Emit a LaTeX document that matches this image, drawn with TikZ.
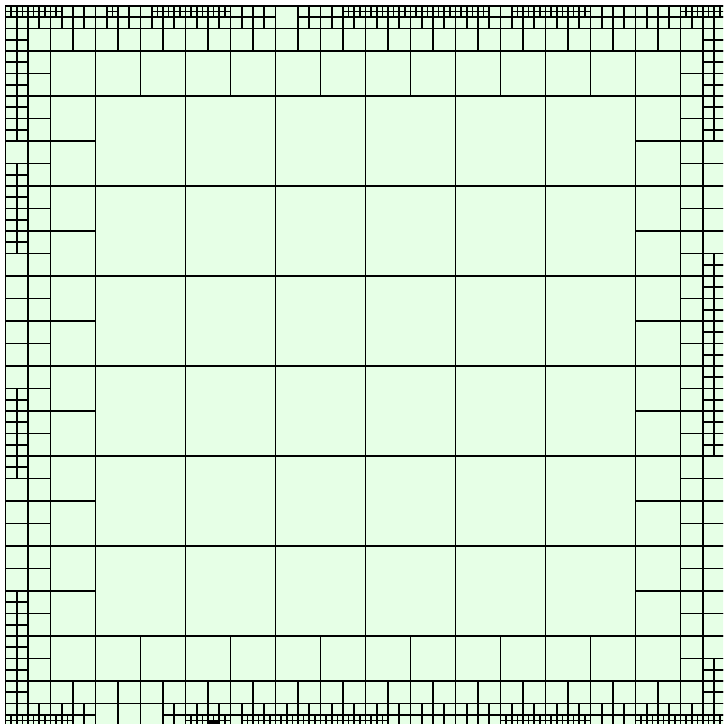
\documentclass[tikz,border=0pt]{standalone}
\usepackage{tikz}
\definecolor{cellcol}{RGB}{230,255,230}
\tikzstyle{mesh} = [line width=0.85pt, draw=black]
\tikzstyle{cellfill} = [fill=cellcol]

\begin{document}
\begin{tikzpicture}[x=2.8125pt, y=-2.8125pt]
    \useasboundingbox (-0.978,-1.067) rectangle (127.56,127.64);
    \clip (-0.978,-1.067) rectangle (127.56,127.64);
    \fill[cellfill] (0,0) rectangle (128,128);

    \begin{scope}[mesh]
    % centre, level 3
    \foreach \x in {16,32,...,96}
        \foreach \y in {16,32,...,96}
            \draw (\x,\y) rectangle ++(16,16);

    % level 4 ring
    \foreach \x in {8,16,...,112} {
        \draw (\x,8) rectangle ++(8,8);
        \draw (\x,112) rectangle ++(8,8);
    }
    \foreach \y in {16,24,...,104} {
        \draw (8,\y) rectangle ++(8,8);
        \draw (112,\y) rectangle ++(8,8);
    }

    % level 5 ring
    \foreach \x in {4,8,...,120} {
        \draw (\x,4) rectangle ++(4,4);
        \draw (\x,120) rectangle ++(4,4);
    }
    \foreach \y in {8,12,...,116} {
        \draw (4,\y) rectangle ++(4,4);
        \draw (120,\y) rectangle ++(4,4);
    }

    % top strip
    \foreach \x in {0,2,...,46,52,54,...,126}
        \foreach \y in {0,2}
            \draw (\x,\y) rectangle ++(2,2);
    \draw (48,0) rectangle ++(4,4);
    \foreach \x in {0,2,...,8,18,26,28,...,38,60,62,...,84,90,92,...,102,120,122,...,126}
        \draw (\x+1,0) -- ++(0,2) (\x,1) -- ++(2,0);

    % left strip
    \foreach \y in {4,6,...,22,28,30,...,42,68,70,...,82,104,106,...,122}
        \foreach \x in {0,2}
            \draw (\x,\y) rectangle ++(2,2);
    \foreach \y in {24,44,48,...,64,84,88,...,100}
        \draw (0,\y) rectangle ++(4,4);

    % right strip
    \foreach \y in {4,6,...,22,44,46,...,78,116,118,120,122}
        \foreach \x in {124,126}
            \draw (\x,\y) rectangle ++(2,2);
    \foreach \y in {24,28,...,40,80,84,...,112}
        \draw (124,\y) rectangle ++(4,4);

    % bottom strip
    \foreach \x in {0,2,...,14,28,30,...,126}
        \foreach \y in {124,126}
            \draw (\x,\y) rectangle ++(2,2);
    \foreach \x in {16,20,24}
        \draw (\x,124) rectangle ++(4,4);
    \foreach \x in {0,2,...,10,32,34,...,38,42,44,...,66,88,90,...,102,112,114,...,126}
        \draw (\x+1,126) -- ++(0,2) (\x,127) -- ++(2,0);
    % finest cells near the bottom edge
    \foreach \x in {36.25,36.5,...,37.75}
        \draw (\x,127) -- ++(0,1);
    \foreach \y in {127.25,127.5,127.75}
        \draw (36,\y) -- ++(2,0);

    % domain border
    \draw (0,0) rectangle (128,128);
    \end{scope}
\end{tikzpicture}
\end{document}
